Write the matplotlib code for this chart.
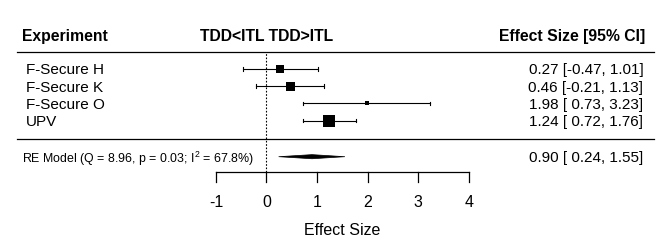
import matplotlib
matplotlib.use("Agg")
import matplotlib.pyplot as plt
import numpy as np

plt.rcParams['font.family'] = ['Liberation Sans', 'DejaVu Sans']
plt.rcParams['mathtext.fontset'] = 'custom'
plt.rcParams['mathtext.rm'] = 'Liberation Sans'
plt.rcParams['mathtext.it'] = 'Liberation Sans'

# data
studies = ['F-Secure H', 'F-Secure K', 'F-Secure O', 'UPV']
est = [0.27, 0.46, 1.98, 1.24]
ci_lo = [-0.47, -0.21, 0.73, 0.72]
ci_hi = [1.01, 1.13, 3.23, 1.76]
marker_px = [7.5, 9, 4, 11.3]   # square side in pixels (weights)
re_est, re_lo, re_hi = 0.90, 0.24, 1.55
re_label = r'RE Model (Q = 8.96, p = 0.03; I$^2$ = 67.8%)'
xticks = [-1, 0, 1, 2, 3, 4]

rows = [4, 3, 2, 1]
re_row = -1.1

fig = plt.figure(figsize=(6.69, 2.47), dpi=100)
ax = fig.add_axes([0, 0, 1, 1])
ax.set_xlim(-5.267, 7.955)
ax.set_ylim(-6.35, 8.01)
ax.axis('off')

fs = 11
# header
ax.text(-4.84, 6.0, 'Experiment', fontsize=11.3, fontweight='bold', va='center_baseline', ha='left')
ax.text(0, 6.0, 'TDD<ITL TDD>ITL', fontsize=11.3, fontweight='bold', va='center_baseline', ha='center')
ax.text(7.49, 6.0, 'Effect Size [95% CI]', fontsize=11.3, fontweight='bold', va='center_baseline', ha='right')
ax.plot([-4.93, 7.66], [5.0, 5.0], color='black', lw=0.9)
ax.plot([-4.93, 7.66], [-0.07, -0.07], color='black', lw=0.9)

# reference line
ax.plot([0, 0], [-1.97, 4.95], color='black', lw=0.8, ls=(0, (1.5, 1.5)))

# studies
for name, y, e, lo, hi, s in zip(studies, rows, est, ci_lo, ci_hi, marker_px):
    ax.plot([lo, hi], [y, y], color='black', lw=0.8)
    ax.plot([lo, lo], [y - 0.1, y + 0.1], color='black', lw=0.8)
    ax.plot([hi, hi], [y - 0.1, y + 0.1], color='black', lw=0.8)
    ax.plot(e, y, marker='s', color='black', markersize=s * 0.72, markeredgewidth=0)
    ax.text(-4.75, y, name, fontsize=fs, va='center_baseline', ha='left')
    ax.text(7.45, y, '%.2f [%5.2f, %.2f]' % (e, lo, hi), fontsize=fs,
            va='center_baseline', ha='right')

# summary diamond
h = 0.12
ax.fill([re_lo, re_est, re_hi, re_est], [re_row, re_row + h, re_row, re_row - h],
        color='black', lw=0.5, edgecolor='black')
ax.text(-4.84, re_row, re_label, fontsize=8.9, va='center_baseline', ha='left')
ax.text(7.45, re_row, '%.2f [%5.2f, %.2f]' % (re_est, re_lo, re_hi), fontsize=fs,
        va='center_baseline', ha='right')

# x axis
ax_y = -1.97
ax.plot([xticks[0], xticks[-1]], [ax_y, ax_y], color='black', lw=0.9)
for t in xticks:
    ax.plot([t, t], [ax_y, ax_y - 0.58], color='black', lw=0.9)
    ax.text(t, -3.66, '%d' % t, fontsize=11.5, va='center_baseline', ha='center')
ax.text(1.5, -5.3, 'Effect Size', fontsize=11.5, va='center_baseline', ha='center')

fig.savefig('out.png', dpi=100)
